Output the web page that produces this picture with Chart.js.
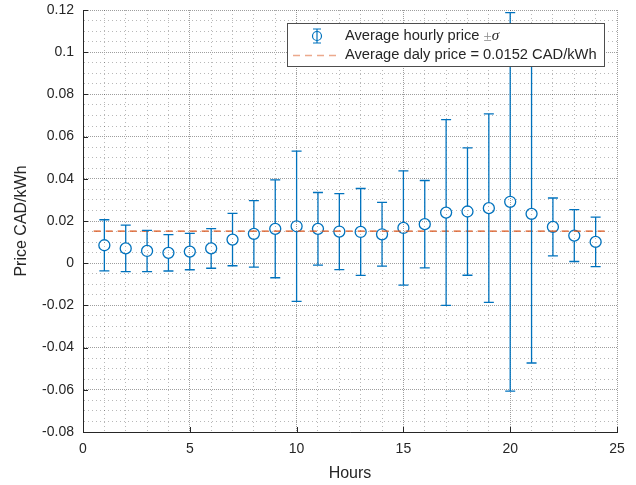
<!DOCTYPE html>
<html>
<head>
<meta charset="utf-8">
<script src="https://cdn.jsdelivr.net/npm/chart.js@4"></script>
<style>
  body { margin: 0; background: #fff; }
  canvas { display: block; }
</style>
</head>
<body>
<canvas id="myChart" width="636" height="485"></canvas>
<script>
// hourly averages
const hours = [1, 2, 3, 4, 5, 6, 7, 8, 9, 10, 11, 12, 13, 14, 15, 16, 17, 18, 19, 20, 21, 22, 23, 24];
const meanPrice = [
  0.0085, 0.0070, 0.0058, 0.0049, 0.0055, 0.0070, 0.0112, 0.0139,
  0.0163, 0.0175, 0.0163, 0.0150, 0.0148, 0.0137, 0.0167, 0.0185,
  0.0240, 0.0245, 0.0261, 0.0291, 0.0234, 0.0172, 0.0131, 0.0101
];
const stdPrice = [
  0.0121, 0.0110, 0.0098, 0.0086, 0.0086, 0.0094, 0.0124, 0.0158,
  0.0232, 0.0356, 0.0172, 0.0180, 0.0206, 0.0151, 0.0271, 0.0207,
  0.0440, 0.0302, 0.0447, 0.0897, 0.0707, 0.0137, 0.0123, 0.0117
];
const dailyAverage = 0.0152;
const dailyRange = [0.5, 24.5];

const xMajorTicks = [0, 5, 10, 15, 20, 25];
const yMajorTicks = [-0.08, -0.06, -0.04, -0.02, 0, 0.02, 0.04, 0.06, 0.08, 0.1, 0.12];

const colors = {
  blue: "#0072BD",
  orange: "#D95319",
  text: "#262626"
}

const isMajorX = v => xMajorTicks.some(t => Math.abs(t - v) < 1e-6);
const isMajorY = v => yMajorTicks.some(t => Math.abs(t - v) < 1e-6);

const errorBars = {
  id: 'errorBars',
  beforeDatasetsDraw(chart) {
    // small inward tick marks like matlab
    const {ctx, chartArea, scales: {x, y}} = chart;
    ctx.save();
    ctx.strokeStyle = colors.text;
    ctx.lineWidth = 1;
    ctx.beginPath();
    xMajorTicks.forEach(t => {
      const px = Math.round(x.getPixelForValue(t)) + 0.5;
      ctx.moveTo(px, chartArea.bottom);
      ctx.lineTo(px, chartArea.bottom - 5);
    });
    yMajorTicks.forEach(t => {
      const py = Math.round(y.getPixelForValue(t)) + 0.5;
      ctx.moveTo(chartArea.left, py);
      ctx.lineTo(chartArea.left + 5, py);
    });
    ctx.stroke();
    ctx.restore();
  },
  afterDatasetsDraw(chart) {
    const {ctx, scales: {x, y}} = chart;
    const r = 5.5;
    ctx.save();
    ctx.strokeStyle = colors.blue;
    ctx.lineWidth = 1.3;
    ctx.beginPath();
    hours.forEach((h, i) => {
      const px = x.getPixelForValue(h);
      const top = y.getPixelForValue(meanPrice[i] + stdPrice[i]);
      const mid = y.getPixelForValue(meanPrice[i]);
      const bot = y.getPixelForValue(meanPrice[i] - stdPrice[i]);
      ctx.moveTo(px, top);
      ctx.lineTo(px, mid - r);
      ctx.moveTo(px, mid + r);
      ctx.lineTo(px, bot);
      ctx.moveTo(px - 5, top);
      ctx.lineTo(px + 5, top);
      ctx.moveTo(px - 5, bot);
      ctx.lineTo(px + 5, bot);
    });
    ctx.stroke();
    ctx.restore();
  }
}

const legendBox = {
  id: 'legendBox',
  afterDraw(chart) {
    const ctx = chart.ctx;
    const bx = 287, by = 23, bw = 317, bh = 43;
    ctx.save();
    ctx.fillStyle = '#fff';
    ctx.fillRect(bx, by, bw, bh);
    ctx.strokeStyle = '#4d4d4d';
    ctx.lineWidth = 1;
    ctx.strokeRect(bx + 0.5, by + 0.5, bw, bh);

    // errorbar symbol
    const sx = 317, sy = 36;
    ctx.strokeStyle = colors.blue;
    ctx.lineWidth = 1.2;
    ctx.beginPath();
    ctx.moveTo(sx, sy - 7); ctx.lineTo(sx, sy + 7);
    ctx.moveTo(sx - 4, sy - 7); ctx.lineTo(sx + 4, sy - 7);
    ctx.moveTo(sx - 4, sy + 7); ctx.lineTo(sx + 4, sy + 7);
    ctx.stroke();
    ctx.beginPath();
    ctx.arc(sx, sy, 4.5, 0, Math.PI * 2);
    ctx.stroke();

    // dashed symbol
    ctx.strokeStyle = 'rgba(217,83,25,0.5)';
    ctx.lineWidth = 1.6;
    ctx.setLineDash([7, 5]);
    ctx.beginPath();
    ctx.moveTo(293, 55.5); ctx.lineTo(341, 55.5);
    ctx.stroke();
    ctx.setLineDash([]);

    ctx.fillStyle = colors.text;
    ctx.textBaseline = 'middle';
    ctx.font = '14.7px "Liberation Sans", Arial, sans-serif';
    const label1 = 'Average hourly price ';
    ctx.fillText(label1, 345, 36);
    let tx = 345 + ctx.measureText(label1).width;
    ctx.fillStyle = '#8a8a8a';
    ctx.font = '15px "Liberation Serif", serif';
    ctx.fillText('\u00B1', tx, 37);
    tx += ctx.measureText('\u00B1').width;
    ctx.fillStyle = colors.text;
    ctx.font = 'italic 15px "Liberation Serif", serif';
    ctx.fillText('\u03C3', tx, 36);

    ctx.font = '14.7px "Liberation Sans", Arial, sans-serif';
    ctx.fillText('Average daly price = ' + dailyAverage.toFixed(4) + ' CAD/kWh', 345, 55);
    ctx.restore();
  }
}

const myChart = document.getElementById('myChart').getContext('2d');

const errorChart = new Chart(myChart, {
  type: 'scatter',
  data: {
    datasets: [{
      label: 'Average hourly price',
      data: hours.map((h, i) => ({x: h, y: meanPrice[i]})),
      pointStyle: 'circle',
      pointRadius: 5.5,
      pointHoverRadius: 5.5,
      pointBorderWidth: 1.3,
      borderColor: colors.blue,
      backgroundColor: 'rgba(0,0,0,0)',
      order: 2
    }, {
      label: 'Average daly price',
      data: dailyRange.map(h => ({x: h, y: dailyAverage})),
      showLine: true,
      pointRadius: 0,
      borderColor: colors.orange,
      borderWidth: 1.2,
      borderDash: [7, 5],
      order: 1
    }]
  },
  options: {
    responsive: false,
    animation: false,
    layout: {
      padding: {top: 10, right: 19, left: 0, bottom: 0}
    },
    plugins: {
      legend: {display: false},
      tooltip: {enabled: false}
    },
    scales: {
      x: {
        type: 'linear',
        min: 0,
        max: 25,
        afterFit: scale => {
          scale.height = 53;
          scale.paddingLeft = 0;
          scale.paddingRight = 0;
        },
        ticks: {
          stepSize: 1,
          autoSkip: false,
          maxRotation: 0,
          padding: 9,
          color: colors.text,
          font: {family: '"Liberation Sans", Arial', size: 14},
          callback: v => isMajorX(v) ? String(v) : ''
        },
        grid: {
          drawTicks: false,
          color: c => isMajorX(c.tick.value) ? 'rgba(0,0,0,0.38)' : 'rgba(0,0,0,0.28)',
          lineWidth: 1
        },
        border: {
          color: colors.text,
          width: 1,
          dash: c => isMajorX(c.tick.value) ? [1, 1] : [1, 3]
        },
        title: {
          display: true,
          text: 'Hours',
          color: colors.text,
          font: {family: '"Liberation Sans", Arial', size: 16},
          padding: {top: 0, bottom: 2}
        }
      },
      y: {
        min: -0.08,
        max: 0.12,
        afterFit: scale => {
          scale.width = 83;
          scale.paddingTop = 0;
          scale.paddingBottom = 0;
        },
        ticks: {
          stepSize: 0.005,
          autoSkip: false,
          padding: 9,
          color: colors.text,
          font: {family: '"Liberation Sans", Arial', size: 14},
          callback: v => isMajorY(v) ? String(Math.round(v * 100) / 100) : ''
        },
        grid: {
          drawTicks: false,
          color: c => isMajorY(c.tick.value) ? 'rgba(0,0,0,0.38)' : 'rgba(0,0,0,0.28)',
          lineWidth: 1
        },
        border: {
          color: colors.text,
          width: 1,
          dash: c => isMajorY(c.tick.value) ? [1, 1] : [1, 3]
        },
        title: {
          display: true,
          text: 'Price CAD/kWh',
          color: colors.text,
          font: {family: '"Liberation Sans", Arial', size: 16},
          padding: {top: 12, bottom: 0}
        }
      }
    }
  },
  plugins: [errorBars, legendBox]
});
</script>
</body>
</html>
